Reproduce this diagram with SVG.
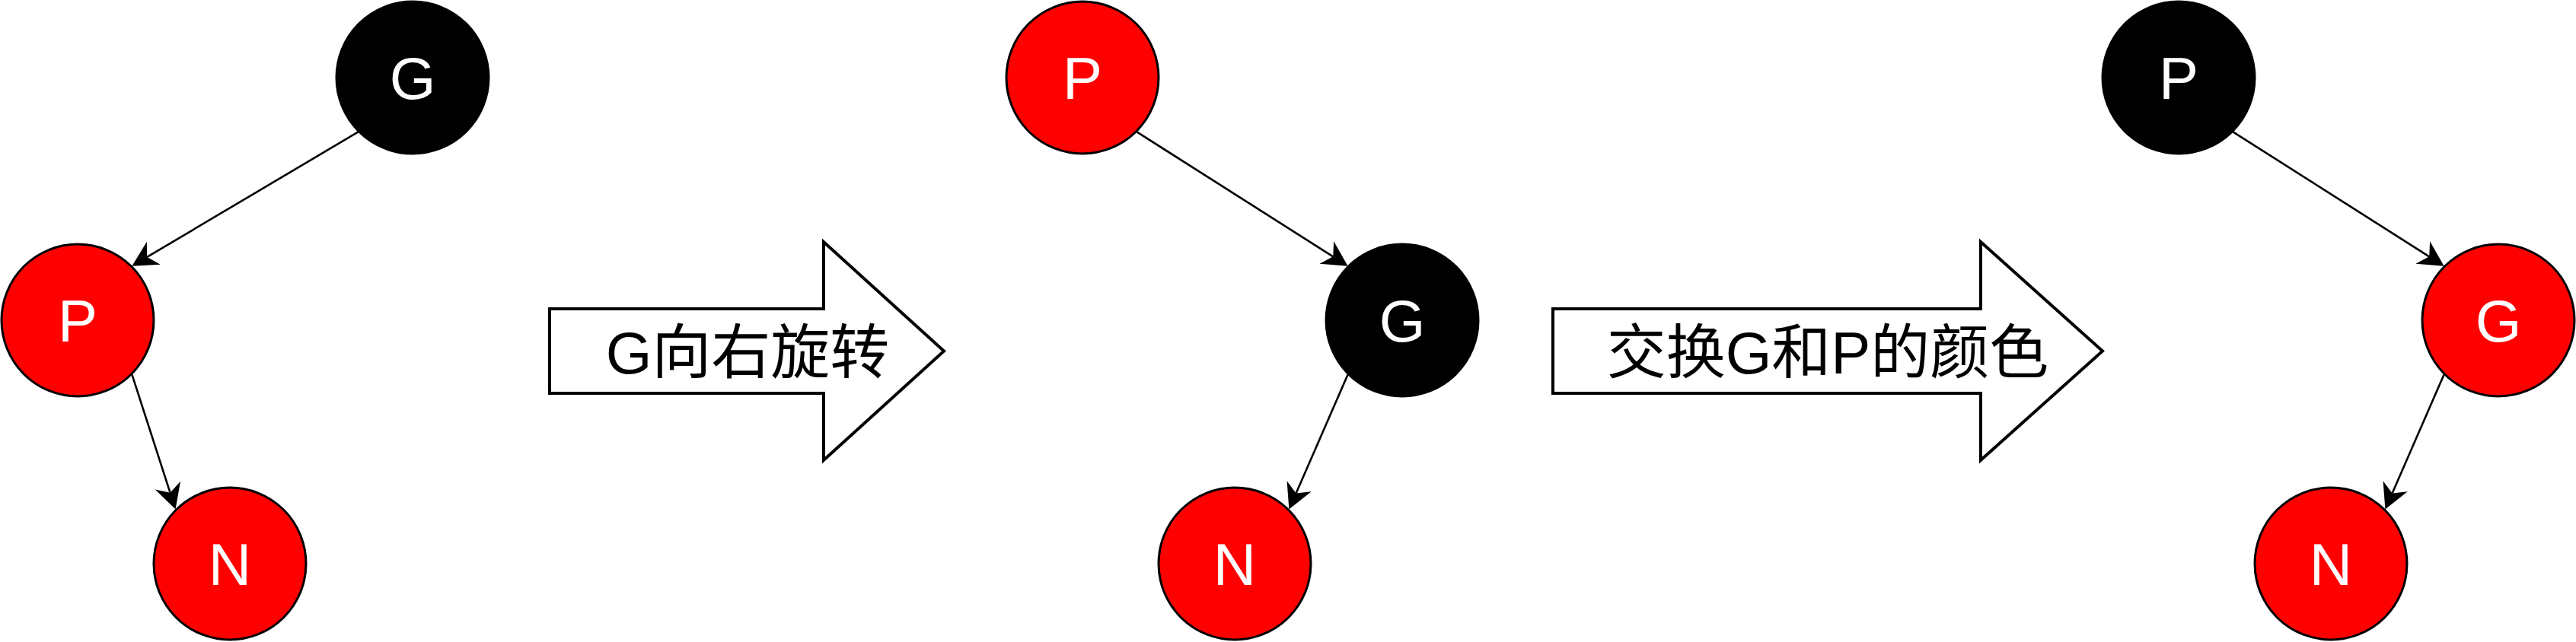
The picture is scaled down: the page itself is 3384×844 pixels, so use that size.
<svg xmlns="http://www.w3.org/2000/svg" width="3384" height="844" viewBox="0 0 3384 844">
<style>
.red{fill:#ff0000;stroke:#000;stroke-width:3}
.black{fill:#000;stroke:#000;stroke-width:3}
.lbl{font-family:"Liberation Sans",Arial,sans-serif;font-size:78px;fill:#fff;text-anchor:middle}
.edge{stroke:#000;stroke-width:2.6;fill:none;marker-end:url(#ah)}
.block{fill:#fff;stroke:#000;stroke-width:4;stroke-linejoin:miter}
.btxt{font-family:"Liberation Sans","Noto Sans CJK SC",sans-serif;font-size:78px;fill:#000;text-anchor:middle}
</style>
<defs>
<marker id="ah" markerUnits="userSpaceOnUse" orient="auto" refX="0" refY="0" markerWidth="60" markerHeight="60" overflow="visible">
<path d="M23,0 L-10,-17.5 L0,0 L-10,17.5 Z" fill="#000" stroke="none"/>
</marker>
</defs>
<rect width="3384" height="844" fill="#fff"/>
<g id="connectors">
<line class="edge" x1="470.6" y1="173.4" x2="193.2" y2="337.9"/>
<line class="edge" x1="173.4" y1="492.4" x2="223.5" y2="647.7"/>
<line class="edge" x1="1493.4" y1="173.4" x2="1751.2" y2="337.3"/>
<line class="edge" x1="1770.6" y1="492.4" x2="1702.6" y2="648.5"/>
<line class="edge" x1="2933.4" y1="173.4" x2="3191.2" y2="337.3"/>
<line class="edge" x1="3210.6" y1="492.4" x2="3142.6" y2="648.5"/>
</g>
<g id="tree1-G"><circle class="black" cx="542" cy="102" r="100"/><text class="lbl" x="542" y="130">G</text></g>
<g id="tree1-P"><circle class="red" cx="102" cy="421" r="100"/><text class="lbl" x="102" y="449">P</text></g>
<g id="tree1-N"><circle class="red" cx="302" cy="741" r="100"/><text class="lbl" x="302" y="769">N</text></g>
<g id="step1">
<polygon class="block" points="722,406 1082,406 1082,318 1240,461.5 1082,605 1082,517 722,517"/>
<text class="btxt" x="982" y="491">G向右旋转</text>
</g>
<g id="tree2-P"><circle class="red" cx="1422" cy="102" r="100"/><text class="lbl" x="1422" y="130">P</text></g>
<g id="tree2-G"><circle class="black" cx="1842" cy="421" r="100"/><text class="lbl" x="1842" y="449">G</text></g>
<g id="tree2-N"><circle class="red" cx="1622" cy="741" r="100"/><text class="lbl" x="1622" y="769">N</text></g>
<g id="step2">
<polygon class="block" points="2040,406 2602,406 2602,318 2762,461.5 2602,605 2602,517 2040,517"/>
<text class="btxt" x="2401" y="491">交换G和P的颜色</text>
</g>
<g id="tree3-P"><circle class="black" cx="2862" cy="102" r="100"/><text class="lbl" x="2862" y="130">P</text></g>
<g id="tree3-G"><circle class="red" cx="3282" cy="421" r="100"/><text class="lbl" x="3282" y="449">G</text></g>
<g id="tree3-N"><circle class="red" cx="3062" cy="741" r="100"/><text class="lbl" x="3062" y="769">N</text></g>
</svg>
